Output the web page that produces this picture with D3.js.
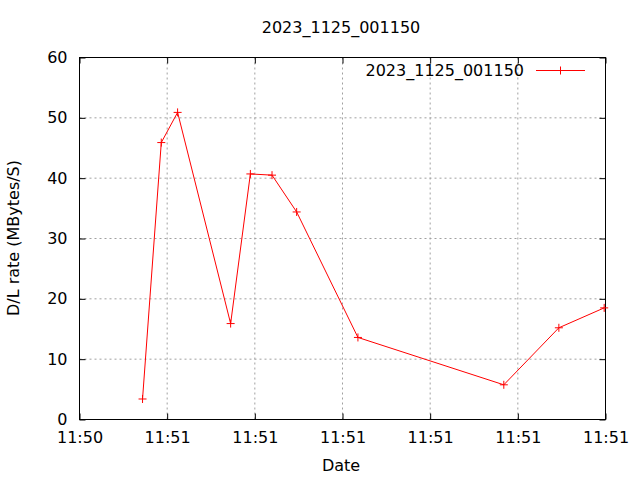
<!DOCTYPE html>
<html><head><meta charset="utf-8">
<script src="https://cdn.jsdelivr.net/npm/d3@7"></script>
<style>body{margin:0;background:#fff}svg{display:block}text{font-family:"DejaVu Sans",sans-serif}</style>
</head><body>
<script>
const title = "2023_1125_001150";
const seriesName = "2023_1125_001150";
// seconds after the first tick
const times = [7.19, 9.33, 11.19, 17.24, 19.49, 21.96, 24.77, 31.76, 48.4, 54.68, 59.85];
const rates = [3.4, 45.9, 50.9, 15.9, 40.7, 40.5, 34.4, 13.6, 5.75, 15.2, 18.5];
const xTickValues = [0, 10, 20, 30, 40, 50, 60];
const xTickLabels = ["11:50", "11:51", "11:51", "11:51", "11:51", "11:51", "11:51"];
const yTickValues = [0, 10, 20, 30, 40, 50, 60];

const W = 640, H = 480;
const m = {l: 79.5, r: 605.5, t: 57.5, b: 419.5};
const svg = d3.select("body").append("svg").attr("width", W).attr("height", H);
const x = d3.scaleLinear().domain([0, 60]).range([m.l, m.r]);
const y = d3.scaleLinear().domain([0, 60]).range([m.b, m.t]);
const fs = 16;

// grid
const g = svg.append("g");
xTickValues.slice(1, -1).forEach(v => g.append("line")
  .attr("x1", x(v)).attr("x2", x(v)).attr("y1", m.t).attr("y2", m.b)
  .attr("stroke", "#a0a0a0").attr("stroke-dasharray", "2,3").attr("stroke-width", 1));
yTickValues.slice(1, -1).forEach(v => g.append("line")
  .attr("x1", m.l).attr("x2", m.r).attr("y1", y(v)).attr("y2", y(v))
  .attr("stroke", "#a0a0a0").attr("stroke-dasharray", "2,3").attr("stroke-width", 1));

// axes
const xb = svg.append("g").attr("transform", `translate(0,${m.b})`)
  .call(d3.axisBottom(x).tickValues(xTickValues).tickFormat((d, i) => xTickLabels[i]).tickSizeInner(-6).tickSizeOuter(0).tickPadding(12));
const xt = svg.append("g").attr("transform", `translate(0,${m.t})`)
  .call(d3.axisTop(x).tickValues(xTickValues).tickFormat("").tickSizeInner(-6).tickSizeOuter(0));
const yl = svg.append("g").attr("transform", `translate(${m.l},0)`)
  .call(d3.axisLeft(y).tickValues(yTickValues).tickSizeInner(-6).tickSizeOuter(0).tickPadding(12));
const yr = svg.append("g").attr("transform", `translate(${m.r},0)`)
  .call(d3.axisRight(y).tickValues(yTickValues).tickFormat("").tickSizeInner(-6).tickSizeOuter(0));
[xb, xt, yl, yr].forEach(a => {
  a.select(".domain").remove();
  a.selectAll("line").attr("stroke", "#000");
  a.selectAll("text").attr("font-size", fs).attr("font-family", "DejaVu Sans").attr("fill", "#000");
});
svg.append("rect").attr("x", m.l).attr("y", m.t).attr("width", m.r - m.l).attr("height", m.b - m.t)
  .attr("fill", "none").attr("stroke", "#000").attr("stroke-width", 1);

// line
const data = times.map((t, i) => [t, rates[i]]);
svg.append("path").datum(data)
  .attr("d", d3.line().x(d => x(d[0])).y(d => y(d[1])))
  .attr("fill", "none").attr("stroke", "red").attr("stroke-width", 1);
const pt = svg.append("g").attr("stroke", "red").attr("stroke-width", 1);
data.forEach(d => {
  const cx = x(d[0]), cy = y(d[1]);
  pt.append("line").attr("x1", cx - 4).attr("x2", cx + 4).attr("y1", cy).attr("y2", cy);
  pt.append("line").attr("x1", cx).attr("x2", cx).attr("y1", cy - 4).attr("y2", cy + 4);
});

// legend
svg.append("text").attr("x", 524).attr("y", 76).attr("text-anchor", "end").attr("font-size", fs).text(seriesName);
svg.append("line").attr("x1", 536).attr("x2", 585).attr("y1", 70.5).attr("y2", 70.5).attr("stroke", "red");
svg.append("line").attr("x1", 560.5).attr("x2", 560.5).attr("y1", 66.5).attr("y2", 74.5).attr("stroke", "red");

// titles
svg.append("text").attr("x", 341).attr("y", 33).attr("text-anchor", "middle").attr("font-size", fs).text(title);
svg.append("text").attr("x", 341).attr("y", 471).attr("text-anchor", "middle").attr("font-size", fs).text("Date");
svg.append("text").attr("transform", "translate(19,238) rotate(-90)").attr("text-anchor", "middle").attr("font-size", fs).text("D/L rate (MBytes/S)");
</script>
</body></html>
